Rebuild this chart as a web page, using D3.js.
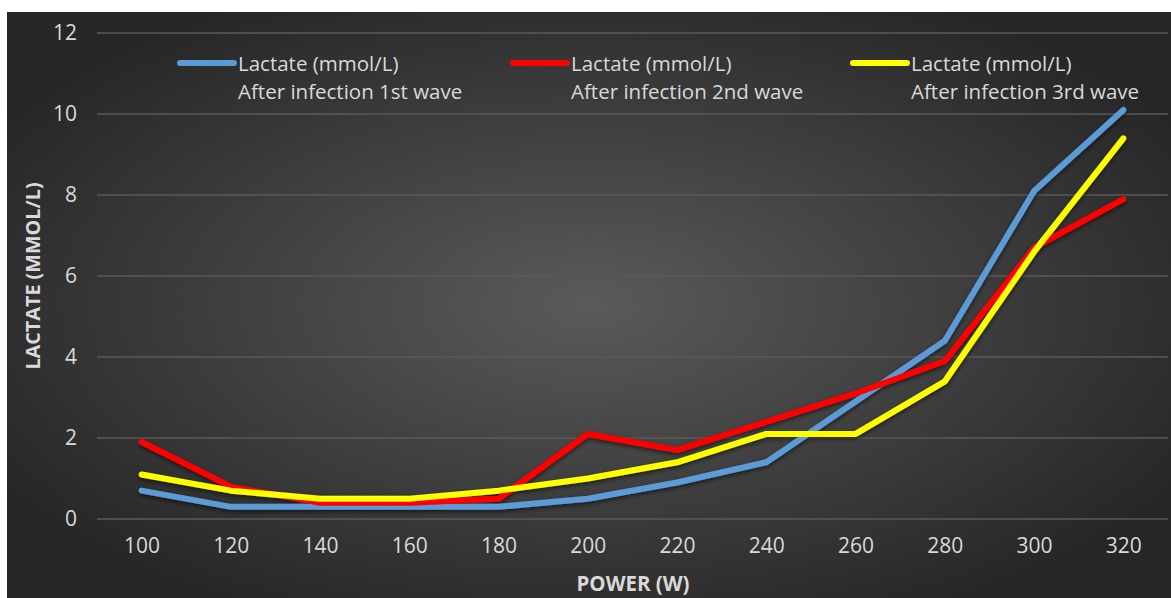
<!DOCTYPE html>
<html>
<head>
<meta charset="utf-8">
<script src="https://cdn.jsdelivr.net/npm/d3@7"></script>
<style>
  html, body { margin: 0; padding: 0; background: #fff; }
  svg { display: block; }
  text { font-family: "Open Sans", sans-serif; }
</style>
</head>
<body>
<svg id="chart" width="1171" height="598"></svg>
<script>
// data
var powers = [100, 120, 140, 160, 180, 200, 220, 240, 260, 280, 300, 320];
var wave1 = [0.7, 0.3, 0.3, 0.3, 0.3, 0.5, 0.9, 1.4, 2.9, 4.4, 8.1, 10.1];
var wave2 = [1.9, 0.8, 0.4, 0.4, 0.5, 2.1, 1.7, 2.4, 3.1, 3.9, 6.7, 7.9];
var wave3 = [1.1, 0.7, 0.5, 0.5, 0.7, 1.0, 1.4, 2.1, 2.1, 3.4, 6.6, 9.4];
var yTicks = [0, 2, 4, 6, 8, 10, 12];
var seriesNames = ["After infection 1st wave", "After infection 2nd wave", "After infection 3rd wave"];
var seriesColors = ["#5b9bd5", "#ff0000", "#ffff00"];

var svg = d3.select("#chart");
var W = 1171, H = 598;

// chart background
var defs = svg.append("defs");
var grad = defs.append("radialGradient")
    .attr("id", "bg")
    .attr("cx", "50%").attr("cy", "50%").attr("r", "60%");
grad.append("stop").attr("offset", "0%").attr("stop-color", "#5a5a5a");
grad.append("stop").attr("offset", "100%").attr("stop-color", "#262626");

var shadow = defs.append("filter").attr("id", "shadow")
    .attr("x", "-5%").attr("y", "-5%").attr("width", "110%").attr("height", "110%");
shadow.append("feDropShadow")
    .attr("dx", 0).attr("dy", 2).attr("stdDeviation", 2)
    .attr("flood-color", "#000").attr("flood-opacity", 0.6);

svg.append("rect")
    .attr("x", 7).attr("y", 12)
    .attr("width", W - 7).attr("height", H - 12)
    .attr("fill", "url(#bg)");

var x = d3.scalePoint()
    .domain(powers)
    .range([97, 1168])
    .padding(0.5);

var y = d3.scaleLinear()
    .domain([0, 12])
    .range([519, 33]);

// gridlines
svg.append("g")
    .selectAll("line")
    .data(yTicks)
    .enter().append("line")
    .attr("x1", 97).attr("x2", 1168)
    .attr("y1", d => y(d)).attr("y2", d => y(d))
    .attr("stroke", "#5a5a5a")
    .attr("stroke-width", 1.3);

// y axis
var yAxis = svg.append("g")
    .attr("transform", "translate(77,0)")
    .call(d3.axisLeft(y).tickValues(yTicks).tickSize(0).tickPadding(0));
yAxis.select(".domain").remove();
yAxis.selectAll("text")
    .attr("fill", "#d9d9d9")
    .style("font-size", "21px")
    .style("font-family", "Open Sans, sans-serif");

// x axis
var xAxis = svg.append("g")
    .attr("transform", "translate(0,519)")
    .call(d3.axisBottom(x).tickSize(0).tickPadding(19));
xAxis.select(".domain").remove();
xAxis.selectAll("text")
    .attr("fill", "#d9d9d9")
    .style("font-size", "21px")
    .style("font-family", "Open Sans, sans-serif");

// axis titles
svg.append("text")
    .attr("x", 633).attr("y", 591)
    .attr("text-anchor", "middle")
    .attr("fill", "#d9d9d9")
    .style("font-size", "20.5px")
    .style("font-weight", "bold")
    .text("POWER (W)");

svg.append("text")
    .attr("transform", "translate(40,276) rotate(-90)")
    .attr("text-anchor", "middle")
    .attr("fill", "#d9d9d9")
    .style("font-size", "19.8px")
    .style("font-weight", "bold")
    .text("LACTATE (MMOL/L)");

// lines
var allSeries = [wave1, wave2, wave3];
var line = d3.line()
    .x((d, i) => x(powers[i]))
    .y(d => y(d));

svg.append("g")
    .attr("filter", "url(#shadow)")
    .selectAll("path")
    .data(allSeries)
    .enter().append("path")
    .attr("d", line)
    .attr("fill", "none")
    .attr("stroke", (d, i) => seriesColors[i])
    .attr("stroke-width", 6)
    .attr("stroke-linecap", "round")
    .attr("stroke-linejoin", "round");

// legend
var legendX = [180, 513, 853];
var legend = svg.append("g")
    .selectAll("g")
    .data(seriesNames)
    .enter().append("g")
    .attr("transform", (d, i) => "translate(" + legendX[i] + ",63)");

legend.append("line")
    .attr("x1", 0).attr("x2", 54)
    .attr("y1", 0).attr("y2", 0)
    .attr("stroke", (d, i) => seriesColors[i])
    .attr("stroke-width", 6)
    .attr("stroke-linecap", "round");

legend.append("text")
    .attr("x", 58).attr("y", 7.5)
    .attr("fill", "#d9d9d9")
    .style("font-size", "20.5px")
    .text("Lactate (mmol/L)");

legend.append("text")
    .attr("x", 58).attr("y", 36)
    .attr("fill", "#d9d9d9")
    .style("font-size", "20.5px")
    .text(d => d);
</script>
</body>
</html>
